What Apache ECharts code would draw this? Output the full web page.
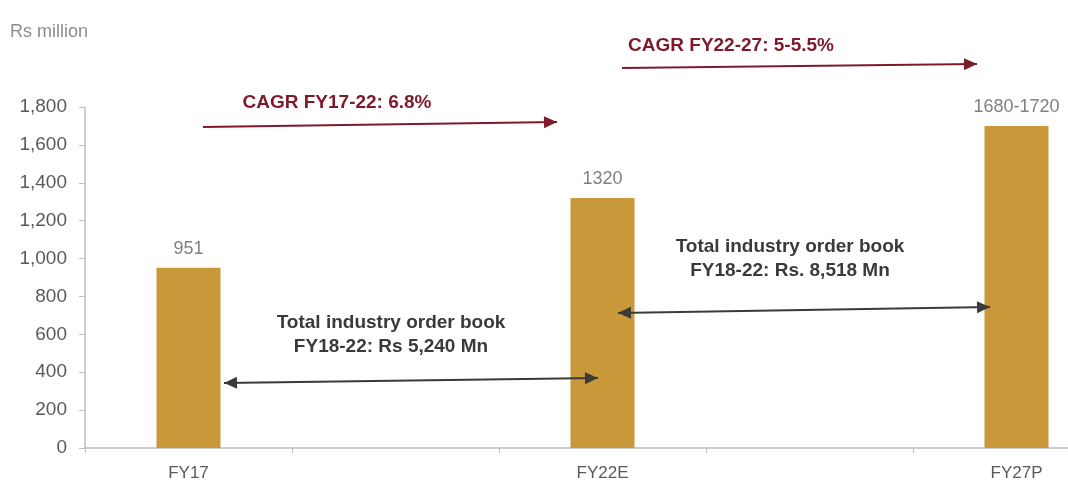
<!DOCTYPE html>
<html>
<head>
<meta charset="utf-8">
<script src="https://cdn.jsdelivr.net/npm/echarts@6/dist/echarts.min.js"></script>
<style>
  html, body { margin: 0; padding: 0; background: #fff; overflow: hidden; }
  /* the original axis runs past the right edge, so the canvas is wider than the window */
  #main { width: 1120px; height: 483px; }
</style>
</head>
<body>
<div id="main"></div>
<script>
// categories (blank slots keep the spacing of the original axis)
var categories = ['FY17', '', 'FY22E', '', 'FY27P'];
var orderBook = [951, null, 1320, null, 1700];
var barLabels = ['951', '', '1320', '', '1680-1720'];
var yTicks = [0, 200, 400, 600, 800, 1000, 1200, 1400, 1600, 1800];

var FONT = '"Liberation Sans", Arial, sans-serif';
var MAROON = '#7d1a2c';
var DARK = '#3a3a3a';

// one arrow: line + head(s)
function arrow(x1, y1, x2, y2, color, both) {
  var els = [{
    type: 'line', z: 100,
    shape: { x1: x1, y1: y1, x2: x2, y2: y2 },
    style: { stroke: color, lineWidth: 2 }
  }];
  function head(tx, ty, fx, fy) {
    var a = Math.atan2(ty - fy, tx - fx), L = 13, W = 6;
    var bx = tx - L * Math.cos(a), by = ty - L * Math.sin(a);
    return {
      type: 'polygon', z: 100,
      shape: { points: [[tx, ty],
        [bx + W * Math.sin(a), by - W * Math.cos(a)],
        [bx - W * Math.sin(a), by + W * Math.cos(a)]] },
      style: { fill: color }
    };
  }
  els.push(head(x2, y2, x1, y1));
  if (both) els.push(head(x1, y1, x2, y2));
  return els;
}

function txt(x, y, text, color, size, bold) {
  return {
    type: 'text', x: x, y: y, z: 100,
    style: {
      text: text, fill: color, font: (bold ? 'bold ' : '') + size + 'px ' + FONT,
      align: 'center', verticalAlign: 'middle', lineHeight: 24
    }
  };
}

var myChart = echarts.init(document.getElementById('main'));

var graphics = [
  { type: 'text', x: 10, y: 32, style: { text: 'Rs million', fill: '#8c8c8c', font: '18px ' + FONT, verticalAlign: 'middle' } },
  txt(337, 103, 'CAGR FY17-22: 6.8%', MAROON, 19, true),
  txt(731, 46, 'CAGR FY22-27: 5-5.5%', MAROON, 19, true),
  txt(391, 335, 'Total industry order book\nFY18-22: Rs 5,240 Mn', DARK, 19, true),
  txt(790, 259, 'Total industry order book\nFY18-22: Rs. 8,518 Mn', DARK, 19, true)
]
  .concat(arrow(203, 127, 557, 122, MAROON, false))
  .concat(arrow(622, 68, 977, 64, MAROON, false))
  .concat(arrow(224, 383, 598, 378, DARK, true))
  .concat(arrow(618, 313, 990, 307, DARK, true));

myChart.setOption({
  animation: false,
  backgroundColor: '#fff',
  grid: { left: 85, top: 107, right: 0, bottom: 35, containLabel: false },
  xAxis: {
    type: 'category',
    data: categories,
    axisLine: { lineStyle: { color: '#bfbfbf', width: 1.5 } },
    axisTick: { show: true, length: 5, interval: 0, lineStyle: { color: '#bfbfbf' } },
    axisLabel: { color: '#595959', fontSize: 17, fontFamily: FONT, margin: 17, interval: 0 }
  },
  yAxis: {
    type: 'value',
    min: yTicks[0],
    max: yTicks[yTicks.length - 1],
    interval: 200,
    axisLine: { show: true, lineStyle: { color: '#bfbfbf', width: 1.5 } },
    axisTick: { show: true, length: 6, lineStyle: { color: '#bfbfbf' } },
    splitLine: { show: false },
    axisLabel: {
      color: '#595959', fontSize: 19, fontFamily: FONT, margin: 18,
      formatter: function (v) { return v.toLocaleString('en-US'); }
    }
  },
  series: [{
    type: 'bar',
    data: orderBook,
    barWidth: 64,
    itemStyle: { color: '#c9983a' },
    label: {
      show: true, position: 'top', distance: 10,
      color: '#808080', fontSize: 18, fontFamily: FONT,
      formatter: function (p) { return barLabels[p.dataIndex]; }
    }
  }],
  graphic: graphics
});
</script>
</body>
</html>
